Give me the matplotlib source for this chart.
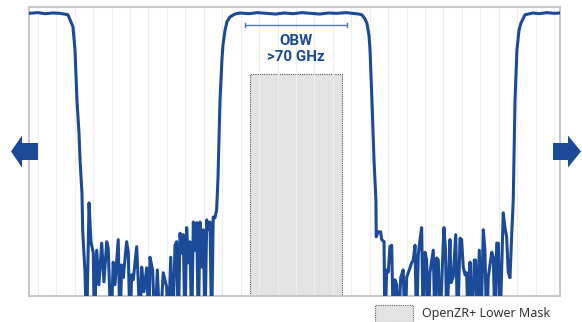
import numpy as np
import matplotlib
matplotlib.use("Agg")
import matplotlib.pyplot as plt
from matplotlib.patches import Polygon, Rectangle

# ---------------- data (frequency offset in GHz, power in dB) ----------------
left_edge_x = [-181, -175, -170, -165, -160, -157, -154.6, -153.2, -151.2, -149.8,
               -148.5, -147.1, -146.4, -145.1, -144.6]
left_edge_y = [0.1, 0.2, 0.05, 0.15, 0.1, 0.0, -0.1, -0.8, -1.8, -5.1,
               -12.2, -16.9, -20.7, -25.4, -30.6]

left_noise_x = [-144.2, -143.1, -141.9, -140.3, -139.0, -137.4, -136.7, -135.1, -133.6, -131.7,
                -130.2, -128.3, -127.3, -125.4, -123.9, -122.7, -120.5, -119.3, -118.2, -117.1,
                -114.8, -113.7, -112.5, -111.4, -110.3, -108.0, -106.9, -105.8, -104.6, -103.1,
                -101.2, -99.7, -99.0, -97.2, -95.6, -94.0, -92.2, -90.0, -87.7, -86.6,
                -84.9, -83.6, -82.0, -80.9, -79.8, -78.6, -77.5, -76.4, -75.3, -74.1,
                -73.0, -71.9, -70.7, -69.6, -68.5, -67.3, -66.2, -65.1, -63.9, -62.8,
                -61.7, -60.5, -59.5, -58.3, -57.2, -56.1, -54.9, -53.8]
left_noise_y = [-32.3, -36.3, -45, -26.8, -32.3, -33.9, -45, -33.5, -38.4, -32.5,
                -38.0, -32.3, -33.2, -45, -35.2, -38.4, -32.0, -45, -35.6, -37.4,
                -32.3, -33.8, -45, -37.0, -37.7, -33.0, -38.0, -45, -35.9, -39.4,
                -36.0, -45, -34.5, -36.3, -45, -36.3, -45, -36.7, -38.7, -45,
                -34.5, -45, -32.8, -32.3, -45, -31.1, -33.9, -31.3, -45, -30.3,
                -35.3, -32.3, -45, -29.5, -33.5, -29.6, -45, -29.5, -35.9, -30.6,
                -45, -29.2, -30.6, -29.5, -45, -28.8, -28.9, -27.8]

center_x = [-52.9, -52.2, -51.5, -50.2, -49.5, -48.1, -46.8, -44.7, -41.4, -38.0,
            -32, -26, -20, -14, -8, -2, 4, 10, 16, 22, 28, 34, 40, 42.5,
            44.7, 46.8, 48.1, 49.5, 50.2, 51.5, 52.9, 54.2, 54.4]
center_y = [-23.5, -17.9, -12.2, -6.5, -4.4, -2.3, -1.1, -0.4, 0.0, 0.15,
            0.05, 0.2, 0.1, 0.0, 0.15, 0.05, 0.2, 0.1, 0.0, 0.15, 0.1, 0.2, 0.05, 0.0,
            -0.1, -0.7, -1.3, -3.0, -5.1, -12.2, -20.7, -26.4, -31.6]

right_noise_x = [55.8, 57.4, 58.1, 59.7, 60.3, 61.5, 62.6, 63.7, 64.9, 66.0,
                 67.1, 68.3, 69.4, 71.0, 72.7, 73.9, 75.1, 76.8, 78.4, 79.5,
                 80.7, 81.8, 82.9, 84.1, 85.2, 86.3, 87.5, 88.6, 89.7, 90.8,
                 93.1, 94.2, 95.4, 96.5, 97.6, 98.8, 100.3, 101.4, 102.2, 104.4,
                 105.1, 106.6, 108.3, 109.6, 111.2, 112.3, 113.4, 114.6, 115.7, 116.8,
                 118.0, 119.1, 120.9, 121.8, 122.9, 124.3, 125.4, 127.0, 128.1, 129.3,
                 130.4, 132.7, 133.8, 134.9, 136.1, 137.2, 138.3, 140.5, 141.7, 142.8,
                 143.9, 145.1, 146.2, 147.3]
right_noise_y = [-30.9, -30.9, -32.0, -32.3, -45, -36.3, -36.6, -33.0, -32.8, -45,
                 -37.7, -38.4, -45, -37.4, -36.3, -45, -37.3, -36.3, -35.3, -34.9,
                 -32.8, -45, -34.2, -32.0, -30.3, -45, -33.8, -34.9, -45, -36.7,
                 -33.5, -45, -34.6, -34.9, -45, -38.1, -30.3, -33.5, -45, -32.0,
                 -38.1, -37.3, -31.3, -45, -31.8, -32.0, -35.9, -37.0, -36.7, -45,
                 -35.2, -45, -34.9, -34.9, -45, -33.5, -45, -30.6, -33.5, -45,
                 -37.3, -33.8, -34.5, -45, -32.5, -32.5, -45, -28.2, -30.3, -31.6,
                 -36.6, -37.4, -31.6, -26.4]

right_edge_x = [148.5, 149.8, 151.2, 152.5, 155.3, 160.7, 165, 170, 175, 179]
right_edge_y = [-12.2, -5.1, -2.3, -1.3, -0.1, 0.15, 0.05, 0.2, 0.1, 0.15]

mask_edges = [-31.2, 31.2]     # OpenZR+ lower mask extent (GHz)
mask_top = -8.5                 # dB
obw_edges = [-34.6, 34.6]       # OBW bracket (GHz)
obw_text = "OBW\n>70 GHz"
legend_label = "OpenZR+ Lower Mask"

x_min, x_max = -181, 179
y_min, y_max = -40, 1
grid_step = 12.5

# ---------------- figure ----------------
W, H = 582, 322
fig = plt.figure(figsize=(W / 100, H / 100), dpi=100)
ax = fig.add_axes([29 / W, 1 - 296 / H, 531 / W, 289 / H])

blue = "#1b4a98"

freq = np.concatenate([left_edge_x, left_noise_x, center_x, right_noise_x, right_edge_x])
power = np.concatenate([left_edge_y, left_noise_y, center_y, right_noise_y, right_edge_y])
ax.plot(freq, power, color=blue, lw=2.2, zorder=3, solid_joinstyle="round")

# mask
ax.bar((mask_edges[0] + mask_edges[1]) / 2, mask_top - y_min, bottom=y_min,
       width=mask_edges[1] - mask_edges[0], color="#e3e3e3", edgecolor="#555555",
       linestyle=(0, (1, 1)), linewidth=0.8, zorder=1)

# OBW bracket
ax.plot(obw_edges, [-1.6, -1.6], color="#4d79b8", lw=1.0, zorder=2)
for xe in obw_edges:
    ax.plot([xe, xe], [-1.3, -1.9], color="#4d79b8", lw=1.0, zorder=2)
ax.text(0, -5.0, obw_text, ha="center", va="center", color=blue,
        fontsize=10.8, fontweight="bold", family=["Roboto", "DejaVu Sans"],
        linespacing=1.15, zorder=4)

ax.set_xlim(x_min, x_max)
ax.set_ylim(y_min, y_max)
ax.set_xticks(np.arange(-175, 176, grid_step))
ax.set_yticks([])
ax.tick_params(axis="x", length=0, labelbottom=False)
ax.grid(axis="x", color="#eeeeee", lw=0.8)
ax.set_axisbelow("line")
for s in ax.spines.values():
    s.set_color("#c8c8c8")
    s.set_linewidth(1.5)

# side arrows (decorations, figure pixel geometry)
def fpx(x, y):
    return (x / W, 1 - y / H)

left_arrow = [fpx(11, 151.5), fpx(22, 135.5), fpx(22, 143), fpx(38, 143),
              fpx(38, 160), fpx(22, 160), fpx(22, 167.5)]
right_arrow = [fpx(581, 151.5), fpx(568, 135.5), fpx(568, 143), fpx(553, 143),
               fpx(553, 160), fpx(568, 160), fpx(568, 167.5)]
for pts in (left_arrow, right_arrow):
    fig.patches.append(Polygon(pts, closed=True, transform=fig.transFigure,
                               facecolor=blue, edgecolor="none", zorder=5))

# legend
fig.patches.append(Rectangle(fpx(375, 322), 38 / W, 17 / H, transform=fig.transFigure,
                             facecolor="#e3e3e3", edgecolor="#666666",
                             linestyle=(0, (1, 1)), linewidth=0.8))
fig.text(422 / W, 1 - 314 / H, legend_label, ha="left", va="center",
         fontsize=9.0, color="#333333", family=["Noto Sans", "DejaVu Sans"])

fig.savefig("out.png", dpi=100)
